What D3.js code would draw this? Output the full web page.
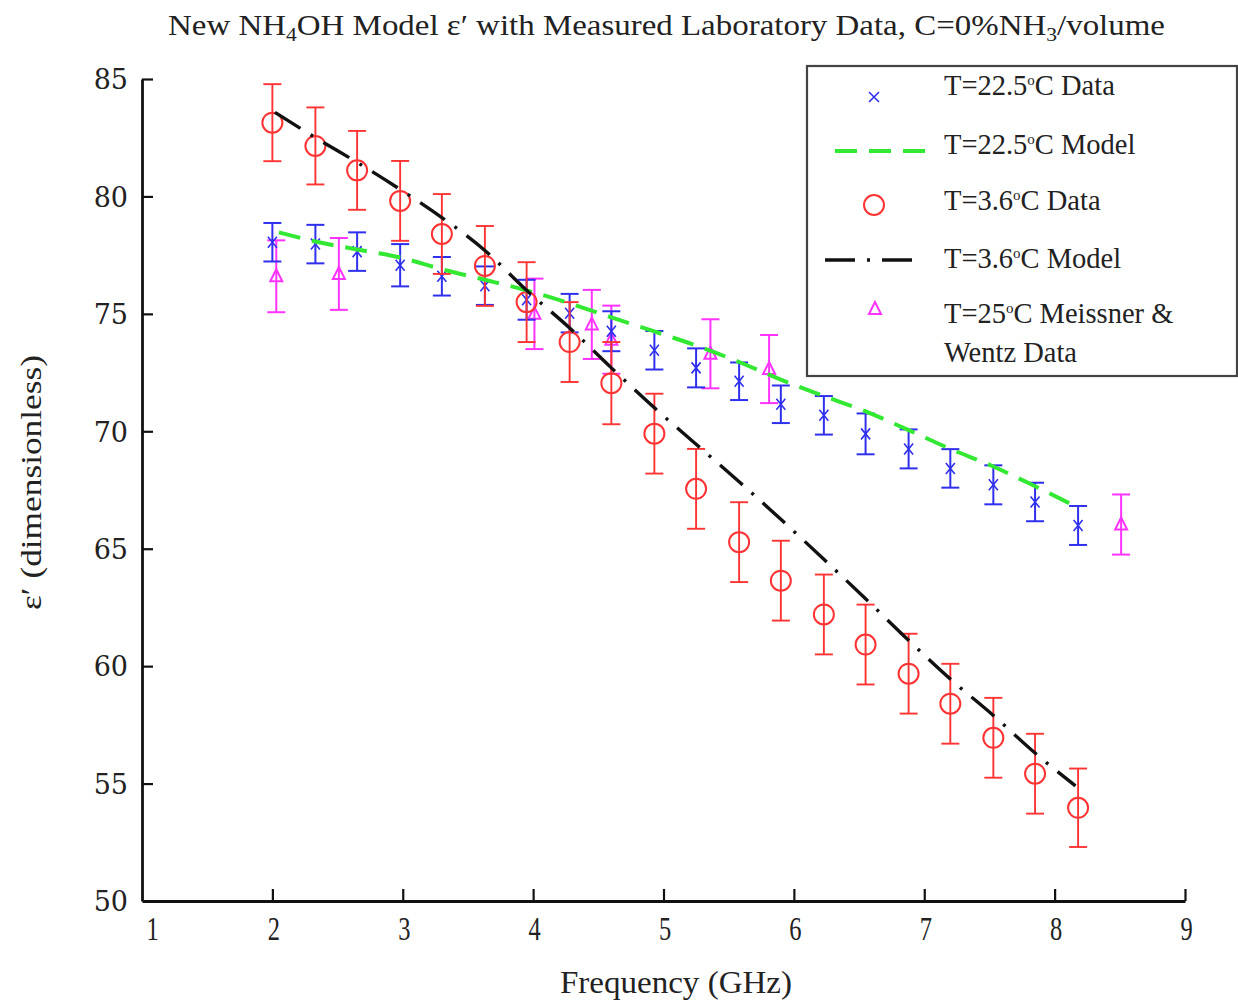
<!DOCTYPE html>
<html><head><meta charset="utf-8">
<script src="https://cdn.jsdelivr.net/npm/d3@7"></script>
<style>body{margin:0;background:#fff}svg{display:block}</style>
</head><body>
<svg id="c" width="1238" height="1001"></svg>
<script>
// ---- data ----
const freqs = [2.00, 2.33, 2.65, 2.98, 3.30, 3.63, 3.95, 4.28, 4.60, 4.93, 5.25, 5.58, 5.90, 6.23, 6.55, 6.88, 7.20, 7.53, 7.85, 8.18];
const data225 = [78.05, 77.97, 77.65, 77.07, 76.6, 76.2, 75.6, 75.03, 74.26, 73.45, 72.7, 72.13, 71.15, 70.68, 69.89, 69.25, 68.42, 67.72, 66.99, 65.99];
const err225  = [0.82, 0.82, 0.82, 0.9, 0.82, 0.82, 0.85, 0.82, 0.85, 0.82, 0.83, 0.8, 0.8, 0.82, 0.87, 0.83, 0.82, 0.83, 0.82, 0.83];
const data36  = [83.14, 82.15, 81.11, 79.81, 78.4, 77.04, 75.5, 73.8, 72.05, 69.9, 67.55, 65.28, 63.64, 62.2, 60.92, 59.68, 58.4, 56.95, 55.42, 53.97];
const err36   = [1.64, 1.64, 1.68, 1.7, 1.7, 1.7, 1.7, 1.7, 1.75, 1.7, 1.7, 1.7, 1.7, 1.7, 1.7, 1.7, 1.7, 1.7, 1.7, 1.67];
const modelFreq225 = [2.05, 2.33, 2.65, 2.98, 3.30, 3.63, 3.95, 4.28, 4.60, 4.93, 5.25, 5.58, 5.90, 6.23, 6.55, 6.88, 7.20, 7.53, 7.85, 8.18];
const model225 = [78.47, 78.08, 77.74, 77.4, 76.9, 76.45, 76.0, 75.45, 74.85, 74.25, 73.65, 72.95, 72.2, 71.5, 70.85, 70.05, 69.25, 68.5, 67.66, 66.75];
const modelFreq36 = [2.02, 2.33, 2.65, 2.98, 3.30, 3.63, 3.95, 4.28, 4.60, 4.93, 5.25, 5.58, 5.90, 6.23, 6.55, 6.88, 7.20, 7.53, 7.85, 8.16];
const model36 = [83.58, 82.5, 81.45, 80.3, 79.1, 77.7, 76.0, 74.4, 72.7, 71.0, 69.45, 67.85, 66.25, 64.55, 62.87, 61.1, 59.45, 57.9, 56.3, 54.9];
const mwFreq = [2.03, 2.51, 4.01, 4.45, 4.60, 5.36, 5.81, 8.51];
const mwData = [76.6, 76.7, 75.0, 74.55, 73.9, 73.3, 72.65, 66.03];
const mwErr  = [1.53, 1.53, 1.5, 1.47, 1.45, 1.47, 1.45, 1.28];
const xTicks = [1, 2, 3, 4, 5, 6, 7, 8, 9];
const yTicks = [50, 55, 60, 65, 70, 75, 80, 85];

const RED = "#ff3333", BLUE = "#2f2fee", MAG = "#ff33ff", GREEN = "#33e833";

const svg = d3.select("#c");
const x = d3.scaleLinear().domain([1, 9]).range([142, 1185]);
const y = d3.scaleLinear().domain([50, 85]).range([901, 79]);

// axes
const xa = svg.append("g").attr("transform", "translate(0,901)")
  .call(d3.axisBottom(x).tickValues(xTicks).tickSizeInner(-12).tickSizeOuter(0).tickFormat(d3.format("d")));
const ya = svg.append("g").attr("transform", "translate(142,0)")
  .call(d3.axisLeft(y).tickValues(yTicks).tickSizeInner(-11).tickSizeOuter(0).tickFormat(d3.format("d")));
[xa, ya].forEach(a => {
  a.select(".domain").attr("stroke", "#111").attr("stroke-width", 2.8);
  a.selectAll(".tick line").attr("stroke", "#111").attr("stroke-width", 2.2);
});
ya.selectAll(".tick").filter(d => d === 50).select("line").remove();
xa.selectAll(".tick").filter(d => d === 1).select("line").remove();
xa.selectAll(".tick text").attr("font-family", "Liberation Serif").attr("font-size", 34)
  .attr("fill", "#222").attr("y", 0).attr("dy", 0)
  .attr("transform", d => `translate(${d === 1 ? 10 : 1},39) scale(0.72,1)`);
ya.selectAll(".tick text").attr("font-family", "DejaVu Serif").attr("font-size", 27)
  .attr("fill", "#222").attr("x", -14).attr("dy", "0.36em");

// error bars helper
function errBars(fx, vals, errs, color, cap, cls, sw) {
  const g = svg.append("g").attr("class", cls).attr("stroke", color).attr("stroke-width", sw).attr("fill", "none");
  const pts = fx.map((f, i) => ({f, v: vals[i], e: errs[i]}));
  g.selectAll("line.v").data(pts).join("line").attr("class", "v")
    .attr("x1", d => x(d.f)).attr("x2", d => x(d.f)).attr("y1", d => y(d.v + d.e)).attr("y2", d => y(d.v - d.e));
  g.selectAll("line.t").data(pts).join("line").attr("class", "t")
    .attr("x1", d => x(d.f) - cap).attr("x2", d => x(d.f) + cap).attr("y1", d => y(d.v + d.e)).attr("y2", d => y(d.v + d.e));
  g.selectAll("line.b").data(pts).join("line").attr("class", "b")
    .attr("x1", d => x(d.f) - cap).attr("x2", d => x(d.f) + cap).attr("y1", d => y(d.v - d.e)).attr("y2", d => y(d.v - d.e));
  return {g, pts};
}

// Meissner & Wentz
const mw = errBars(mwFreq, mwData, mwErr, MAG, 9, "mw", 2);
const triPath = (cx, cy) => `M${cx},${cy - 7}L${cx + 6},${cy + 5}L${cx - 6},${cy + 5}Z`;
mw.g.selectAll("path").data(mw.pts).join("path").attr("d", d => triPath(x(d.f), y(d.v))).attr("stroke-width", 2);

// 22.5 data
const b = errBars(freqs, data225, err225, BLUE, 9, "b225", 2);
const xPath = (cx, cy, s, t) => `M${cx - s},${cy - t}L${cx + s},${cy + t}M${cx - s},${cy + t}L${cx + s},${cy - t}`;
b.g.selectAll("path").data(b.pts).join("path").attr("d", d => xPath(x(d.f), y(d.v), 4.5, 5.5)).attr("stroke-width", 1.6);

// 3.6 data
const r = errBars(freqs, data36, err36, RED, 9, "r36", 1.9);
r.g.selectAll("circle").data(r.pts).join("circle").attr("cx", d => x(d.f)).attr("cy", d => y(d.v)).attr("r", 10).attr("stroke-width", 2);

// models
const line = d3.line().x(d => x(d[0])).y(d => y(d[1])).curve(d3.curveMonotoneX);
svg.append("path").datum(modelFreq225.map((f, i) => [f, model225[i]])).attr("d", line)
  .attr("fill", "none").attr("stroke", GREEN).attr("stroke-width", 4).attr("stroke-dasharray", "22,12");
svg.append("path").datum(modelFreq36.map((f, i) => [f, model36[i]])).attr("d", line)
  .attr("fill", "none").attr("stroke", "#111").attr("stroke-width", 3.4).attr("stroke-dasharray", "30,12,3,12");

// titles
const t = svg.append("text").attr("x", 168).attr("y", 35).attr("font-family", "Liberation Serif")
  .attr("font-size", 29).attr("fill", "#222").attr("textLength", 997).attr("lengthAdjust", "spacingAndGlyphs");
t.append("tspan").text("New NH");
t.append("tspan").text("4").attr("font-size", 19).attr("dy", 6);
t.append("tspan").text("OH Model ε′ with Measured Laboratory Data, C=0%NH").attr("dy", -6);
t.append("tspan").text("3").attr("font-size", 19).attr("dy", 6);
t.append("tspan").text("/volume").attr("dy", -6);

svg.append("text").attr("x", 560).attr("y", 993).attr("font-family", "Liberation Serif").attr("font-size", 31)
  .attr("fill", "#222").attr("textLength", 232).attr("lengthAdjust", "spacingAndGlyphs").text("Frequency (GHz)");
svg.append("text").attr("transform", "translate(41,610) rotate(-90)").attr("font-family", "Liberation Serif")
  .attr("font-size", 29).attr("fill", "#222").attr("textLength", 255).attr("lengthAdjust", "spacingAndGlyphs")
  .text("ε′ (dimensionless)");

// legend
const lg = svg.append("g");
lg.append("rect").attr("x", 807).attr("y", 66).attr("width", 430).attr("height", 310)
  .attr("fill", "#fff").attr("stroke", "#444").attr("stroke-width", 2.2);
const legendLabels = [
  ["T=22.5", "C Data"], ["T=22.5", "C Model"], ["T=3.6", "C Data"], ["T=3.6", "C Model"], ["T=25", "C Meissner &"]
];
const rowsY = [95, 154, 210, 268, 323];
legendLabels.forEach((p, i) => {
  const tx = lg.append("text").attr("x", 944).attr("y", rowsY[i]).attr("font-family", "Liberation Serif")
    .attr("font-size", 28.5).attr("fill", "#222");
  tx.append("tspan").text(p[0]);
  tx.append("tspan").text("o").attr("font-size", 15).attr("dy", -10);
  tx.append("tspan").text(p[1]).attr("dy", 10);
});
lg.append("text").attr("x", 944).attr("y", 362).attr("font-family", "Liberation Serif")
  .attr("font-size", 28.5).attr("fill", "#222").text("Wentz Data");
lg.append("path").attr("d", xPath(874, 97, 5, 5)).attr("stroke", BLUE).attr("stroke-width", 1.6);
lg.append("line").attr("x1", 835).attr("x2", 925).attr("y1", 151).attr("y2", 151)
  .attr("stroke", GREEN).attr("stroke-width", 4).attr("stroke-dasharray", "22,12");
lg.append("circle").attr("cx", 874).attr("cy", 205).attr("r", 10).attr("fill", "none").attr("stroke", RED).attr("stroke-width", 2);
lg.append("line").attr("x1", 825).attr("x2", 924).attr("y1", 260).attr("y2", 260)
  .attr("stroke", "#111").attr("stroke-width", 3.4).attr("stroke-dasharray", "30,12,3,12");
lg.append("path").attr("d", triPath(875, 309)).attr("fill", "none").attr("stroke", MAG).attr("stroke-width", 2);
</script>
</body></html>
